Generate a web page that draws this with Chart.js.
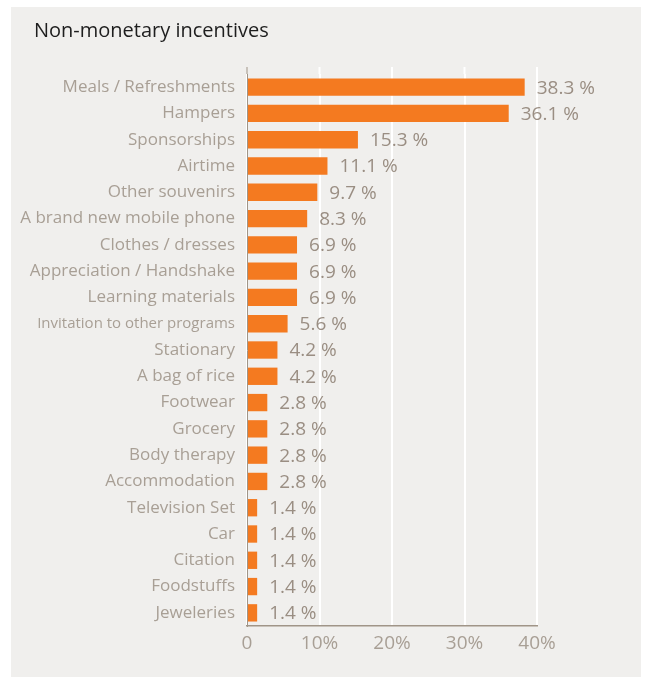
<!DOCTYPE html>
<html>
<head>
<meta charset="utf-8">
<script src="https://cdn.jsdelivr.net/npm/chart.js@4"></script>
<style>
  html, body { margin: 0; padding: 0; background: #ffffff; }
  #panel { position: absolute; left: 11px; top: 7px; width: 630px; height: 670px; background: #f0efed; }
</style>
</head>
<body>
<div id="panel"><canvas id="chart" width="630" height="670"></canvas></div>
<script>
// Incentive categories and their share of respondents (%)
const categories = [
  'Meals / Refreshments', 'Hampers', 'Sponsorships', 'Airtime', 'Other souvenirs',
  'A brand new mobile phone', 'Clothes / dresses', 'Appreciation / Handshake',
  'Learning materials', 'Invitation to other programs', 'Stationary', 'A bag of rice',
  'Footwear', 'Grocery', 'Body therapy', 'Accommodation', 'Television Set', 'Car',
  'Citation', 'Foodstuffs', 'Jeweleries'
];
const shares = [38.3, 36.1, 15.3, 11.1, 9.7, 8.3, 6.9, 6.9, 6.9, 5.6, 4.2, 4.2,
  2.8, 2.8, 2.8, 2.8, 1.4, 1.4, 1.4, 1.4, 1.4];
const xTicks = [0, 10, 20, 30, 40];
const chartTitle = 'Non-monetary incentives';

const FONT = 'Open Sans';
const labelGrey = '#a89f95';

// heading in the top-left corner of the panel
const heading = {
  id: 'heading',
  afterDraw(chart) {
    const ctx = chart.ctx;
    ctx.save();
    ctx.font = '20px "' + FONT + '"';
    ctx.fillStyle = '#1e1e1e';
    ctx.textBaseline = 'middle';
    ctx.textAlign = 'left';
    ctx.fillText(chartTitle, 23, 24);
    ctx.restore();
  }
};

// grid lines run a little above the first bar
const gridStub = {
  id: 'gridStub',
  beforeDatasetsDraw(chart) {
    const { ctx, chartArea, scales } = chart;
    ctx.save();
    xTicks.forEach(v => {
      const x = scales.x.getPixelForValue(v);
      ctx.strokeStyle = v === 0 ? '#a09588' : '#ffffff';
      ctx.lineWidth = v === 0 ? 1 : 2;
      ctx.beginPath();
      ctx.moveTo(x, chartArea.top - 7);
      ctx.lineTo(x, chartArea.top);
      ctx.stroke();
    });
    ctx.restore();
  }
};

// percentage written just past the end of each bar
const valueLabels = {
  id: 'valueLabels',
  afterDatasetsDraw(chart) {
    const ctx = chart.ctx;
    const meta = chart.getDatasetMeta(0);
    ctx.save();
    ctx.font = '19px "' + FONT + '"';
    ctx.fillStyle = '#9a8e83';
    ctx.textBaseline = 'middle';
    ctx.textAlign = 'left';
    meta.data.forEach((bar, i) => {
      ctx.fillText(shares[i].toFixed(1) + ' %', bar.x + 12, bar.y + 1);
    });
    ctx.restore();
  }
};

new Chart(document.getElementById('chart'), {
  type: 'bar',
  data: {
    labels: categories,
    datasets: [{
      data: shares,
      backgroundColor: '#f47a20',
      barPercentage: 0.66,
      categoryPercentage: 1
    }]
  },
  options: {
    indexAxis: 'y',
    responsive: false,
    animation: false,
    layout: { padding: { left: 0, right: 104, top: 67, bottom: 21 } },
    plugins: {
      legend: { display: false },
      tooltip: { enabled: false },
      title: { display: false }
    },
    scales: {
      x: {
        min: 0,
        max: 40,
        afterBuildTicks(scale) { scale.ticks = xTicks.map(v => ({ value: v })); },
        afterFit(scale) { scale.height = 30; },
        grid: { color: '#ffffff', lineWidth: 2, drawTicks: false },
        border: { display: true, color: '#a09588', width: 1.5 },
        ticks: {
          color: labelGrey,
          font: { family: FONT, size: 19 },
          padding: 6,
          callback: v => v === 0 ? '0' : v + '%'
        }
      },
      y: {
        afterFit(scale) { scale.width = 236; },
        grid: { display: false, drawTicks: false },
        border: { display: true, color: '#a09588', width: 1 },
        ticks: {
          color: labelGrey,
          padding: 12,
          autoSkip: false,
          font: c => ({ family: FONT, size: c.index === 9 ? 15 : 17 })
        }
      }
    }
  },
  plugins: [gridStub, valueLabels, heading]
});
</script>
</body>
</html>
